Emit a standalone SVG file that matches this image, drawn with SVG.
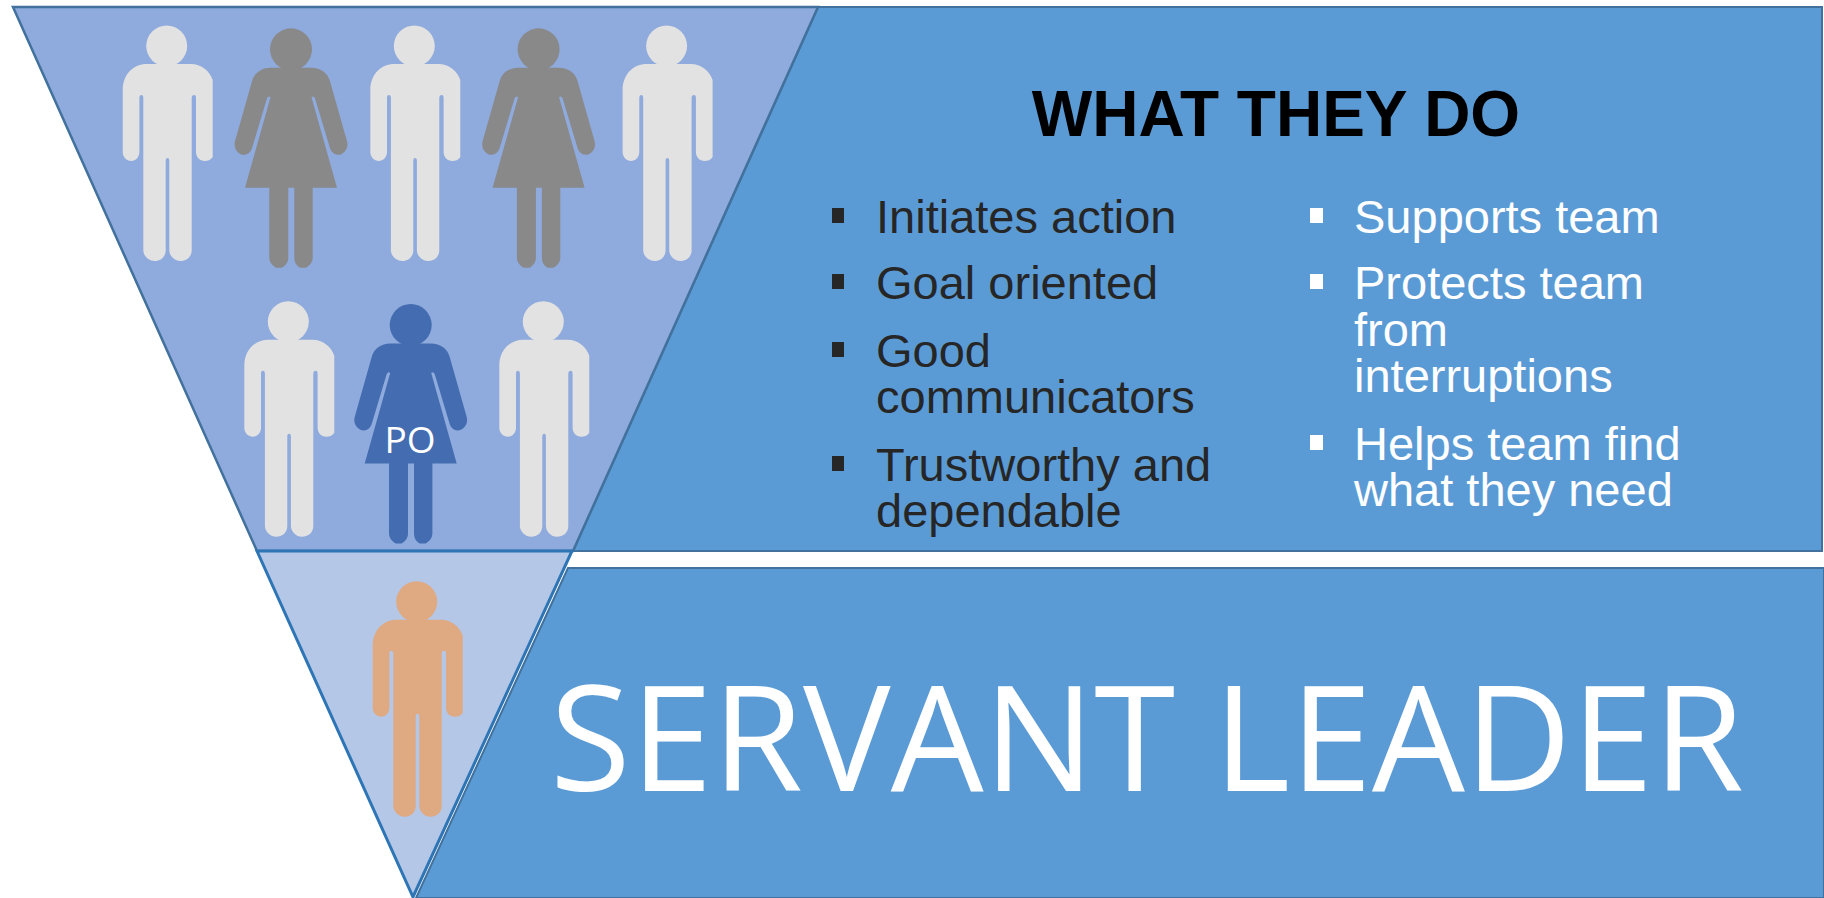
<svg xmlns="http://www.w3.org/2000/svg" xmlns:xlink="http://www.w3.org/1999/xlink" width="1824" height="898" viewBox="0 0 1824 898">
<style>
.panel{fill:#5b9bd5;stroke:#41719c;stroke-width:2}
.tier{stroke:#2e75b6;stroke-width:3;stroke-linejoin:miter}
.b{font-family:"Liberation Sans",Arial,sans-serif;font-size:47px}
.dk{fill:#262626}.wh{fill:#fff}
.man-g{fill:#e2e2e2}.wom-g{fill:#898989}
</style>
<defs>
<g id="man"><circle cx="0" cy="0" r="20.5"/><path d="M-20 18H24C35 18 43 25 46 34V111C44 114 41 115 38 115C33 115 29.3 111 29.3 106V52Q29.3 49 27.5 49Q25 49 25 52V204C25 211 20 215 13.5 215C8 215 2.6 210 2.6 204V115Q2.6 112 .8 112Q-1 112-1 115V204C-1 211-6 215-12 215C-18 215-23.4 210-23.4 204V52Q-23.4 49-25.4 49Q-27.3 49-27.3 52V106C-27.3 111-31 115-35.5 115C-40 115-44 111-44 106V44C-44 28-33 18-20 18Z"/></g>
<g id="woman"><circle cx="0" cy="0" r="21"/><path d="M-20 18.4H20C30 18.4 37 24 39 32L56 92C58 100 52 105.500 47 105.500C43 105.500 40 102 39 99L24 49Q22.500 46 20.500 48L46 138.400H21.700V208C21.700 213 19 216 15 218.400H9C5 216 3.300 213 3.300 208V138.400H-2.700V208C-2.700 213-5 216-9 218.400H-15C-19 216-21.700 213-21.700 208V138.400H-46L-20.500 48Q-22.500 46-24 49L-39 99C-40 102-43 105.500-47 105.500C-52 105.500-58 100-56 92L-39 32C-37 24-30 18.400-20 18.400Z"/></g>
</defs>
<rect width="1824" height="898" fill="#fff"/>
<g id="panel-what"><path class="panel" d="M818 7H1822V551H573Z"/></g>
<g id="panel-servant"><path class="panel" d="M568 568H1824V898H416Z"/></g>
<g id="tier-team"><path class="tier" fill="#8faadc" style="stroke:#41719c;stroke-width:2.500" d="M13 7H818L573 551H257Z"/></g>
<g id="tier-leader"><path class="tier" fill="#b4c7e7" d="M257 551H572L413 897Z"/></g>
<g id="person-1" class="man-g"><use xlink:href="#man" href="#man" x="166.700" y="46"/></g>
<g id="person-2" class="wom-g"><use xlink:href="#woman" href="#woman" x="291" y="49.300"/></g>
<g id="person-3" class="man-g"><use xlink:href="#man" href="#man" x="414.300" y="46"/></g>
<g id="person-4" class="wom-g"><use xlink:href="#woman" href="#woman" x="538.600" y="49.300"/></g>
<g id="person-5" class="man-g"><use xlink:href="#man" href="#man" x="666.600" y="46"/></g>
<g id="person-6" class="man-g"><use xlink:href="#man" href="#man" x="288.300" y="321.700"/></g>
<g id="person-po"><use xlink:href="#woman" href="#woman" x="410.700" y="325" fill="#446cb0"/><text x="410" y="453" text-anchor="middle" font-family="Open Sans,sans-serif" font-size="37" fill="#fff">PO</text></g>
<g id="person-7" class="man-g"><use xlink:href="#man" href="#man" x="543.300" y="321.700"/></g>
<g id="person-leader"><use xlink:href="#man" href="#man" x="416.700" y="601.700" fill="#dfa981"/></g>
<g id="connectors"></g>
<g id="title"><text x="1276" y="136" text-anchor="middle" font-family="Liberation Sans,Arial,sans-serif" font-weight="700" font-size="64" fill="#000">WHAT THEY DO</text></g>
<g id="list-left" class="dk">
<rect x="832" y="208" width="12" height="15" fill="#262626"/><rect x="832" y="274" width="12" height="15" fill="#262626"/><rect x="832" y="342" width="12" height="15" fill="#262626"/><rect x="832" y="456" width="12" height="15" fill="#262626"/>
<text class="b dk" x="876" y="232.700">Initiates action</text>
<text class="b dk" x="876" y="299">Goal oriented</text>
<text class="b dk" x="876" y="366.700">Good</text>
<text class="b dk" x="876" y="412.700">communicators</text>
<text class="b dk" x="876" y="480.700">Trustworthy and</text>
<text class="b dk" x="876" y="526.700">dependable</text>
</g>
<g id="list-right" class="wh">
<rect x="1310" y="208" width="13" height="15" fill="#fff"/><rect x="1310" y="274" width="13" height="15" fill="#fff"/><rect x="1310" y="435" width="13" height="15" fill="#fff"/>
<text class="b wh" x="1354" y="232.700">Supports team</text>
<text class="b wh" x="1354" y="299">Protects team</text>
<text class="b wh" x="1354" y="346">from</text>
<text class="b wh" x="1354" y="391.700">interruptions</text>
<text class="b wh" x="1354" y="460">Helps team find</text>
<text class="b wh" x="1354" y="506">what they need</text>
</g>
<g id="servant"><text x="1147" y="791" text-anchor="middle" font-family="Open Sans,sans-serif" font-size="147" fill="#fff">SERVANT LEADER</text></g>
</svg>
